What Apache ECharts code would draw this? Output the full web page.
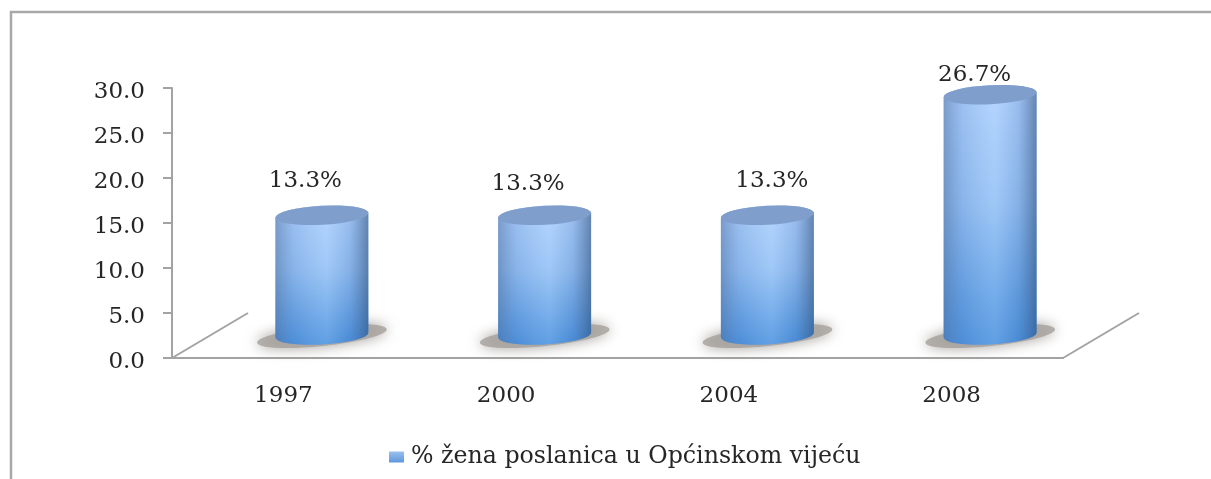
<!DOCTYPE html>
<html>
<head>
<meta charset="utf-8">
<style>html,body{margin:0;padding:0;background:#fff;overflow:hidden}#c{width:1211px;height:479px;filter:blur(0.45px)}</style>
<script src="https://cdn.jsdelivr.net/npm/echarts@6/dist/echarts.min.js"></script>
</head>
<body>
<div id="c"></div>
<script>
const categories = ['1997', '2000', '2004', '2008'];
const shares = [13.3, 13.3, 13.3, 26.7];
const dataLabels = ['13.3%', '13.3%', '13.3%', '26.7%'];
const seriesName = '% žena poslanica u Općinskom vijeću';
const yTicks = { min: 0, max: 30, step: 5 };

const FONT = '"DejaVu Serif", serif';
const TEXT = '#262626';
const AXIS = '#a3a3a3';
const DEPTH = [38.5, -23];
const WALL = [76, -45];
const TILT = 3;
const labelNudge = [[22, -57], [22, -54], [43, -57], [23, -43]];

function ell(cx, cy, rx, deg) {
  const a = deg * Math.PI / 180;
  return { lx: cx - rx * Math.cos(a), ly: cy + rx * Math.sin(a), rx2: cx + rx * Math.cos(a), ry2: cy - rx * Math.sin(a) };
}

function renderBar(params, api) {
  const i = api.value(0);
  const base = api.coord([i, 0]);
  const top = api.coord([i, api.value(1)]);
  const band = api.size([1, 0])[0];
  const rx = band * 0.209, ry = 9.5;
  const cx = base[0] + DEPTH[0];
  const yb = base[1] + DEPTH[1];
  const yt = top[1] + DEPTH[1];
  const b = ell(cx, yb, rx, TILT), t = ell(cx, yt, rx, TILT);
  const body = `M ${t.lx} ${t.ly} L ${b.lx} ${b.ly} A ${rx} ${ry} ${-TILT} 0 0 ${b.rx2} ${b.ry2} L ${t.rx2} ${t.ry2} A ${rx} ${ry} ${-TILT} 0 0 ${t.lx} ${t.ly} Z`;
  const topPath = `M ${t.lx} ${t.ly} A ${rx} ${ry} ${-TILT} 0 1 ${t.rx2} ${t.ry2} A ${rx} ${ry} ${-TILT} 0 1 ${t.lx} ${t.ly} Z`;
  return {
    type: 'group',
    children: [
      { type: 'ellipse', shape: { cx: cx, cy: yb + 1, rx: rx * 1.4, ry: 10 }, rotation: 6 * Math.PI / 180, originX: cx, originY: yb,
        style: { fill: 'rgba(165,160,155,0.8)', shadowBlur: 14, shadowColor: 'rgba(140,135,130,1)' } },
      { type: 'path', shape: { pathData: body },
        style: { fill: { type: 'linear', x: 0, y: 0, x2: 0, y2: 1, colorStops: [
          { offset: 0, color: '#acd0ff' }, { offset: 0.45, color: '#92c0f6' }, { offset: 1, color: '#4a92e0' }] } } },
      { type: 'path', shape: { pathData: body },
        style: { fill: { type: 'linear', x: 0, y: 0, x2: 1, y2: 0, colorStops: [
          { offset: 0, color: 'rgba(75,105,150,0.5)' }, { offset: 0.2, color: 'rgba(90,120,170,0.16)' },
          { offset: 0.55, color: 'rgba(255,255,255,0.12)' }, { offset: 0.8, color: 'rgba(60,90,140,0.14)' },
          { offset: 1, color: 'rgba(40,70,110,0.55)' }] } } },
      { type: 'path', shape: { pathData: topPath }, style: { fill: '#7f9ecb' } },
      { type: 'text', x: top[0] + labelNudge[i][0], y: top[1] + labelNudge[i][1],
        style: { text: dataLabels[i], font: `23px ${FONT}`, fill: TEXT, align: 'center', verticalAlign: 'middle' } }
    ]
  };
}

function renderWall(params, api) {
  const i = api.value(0);
  const p = api.coord([i, 0]);
  const band = api.size([1, 0])[0];
  const x = p[0] + (i === 0 ? -band / 2 : band / 2);
  return { type: 'line', shape: { x1: x, y1: p[1], x2: x + WALL[0], y2: p[1] + WALL[1] },
    style: { stroke: AXIS, lineWidth: 2 } };
}

const chart = echarts.init(document.getElementById('c'), null, { renderer: 'canvas' });
chart.setOption({
  animation: false,
  backgroundColor: '#fff',
  grid: { left: 172, right: 148, top: 88, bottom: 121 },
  graphic: [
    { type: 'polyline', shape: { points: [[11, 479], [11, 12], [1211, 12]] }, style: { stroke: '#a8a8a8', fill: 'none', lineWidth: 2.5 } }
  ],
  legend: {
    data: [seriesName], top: 440, left: 384, icon: 'rect', itemWidth: 15, itemHeight: 11, itemGap: 3,
    textStyle: { fontFamily: FONT, fontSize: 23.7, color: TEXT, padding: [0, 0, 0, 2] }
  },
  xAxis: {
    type: 'category', data: categories,
    axisLine: { lineStyle: { color: AXIS, width: 2 } },
    axisTick: { alignWithLabel: false, length: 7, lineStyle: { color: AXIS, width: 2 } },
    axisLabel: { fontFamily: FONT, fontSize: 23, color: TEXT, margin: 27 }
  },
  yAxis: {
    type: 'value', min: yTicks.min, max: yTicks.max, interval: yTicks.step,
    splitLine: { show: false },
    axisLine: { show: true, lineStyle: { color: AXIS, width: 2 } },
    axisTick: { show: true, length: 9, lineStyle: { color: AXIS, width: 2 } },
    axisLabel: { fontFamily: FONT, fontSize: 23, color: TEXT, margin: 27, verticalAlign: 'top', lineHeight: 8, formatter: v => v.toFixed(1) }
  },
  series: [
    { type: 'custom', name: 'walls', silent: true, renderItem: renderWall, encode: { x: 0, y: 1 }, z: 1,
      data: [[0, 0], [categories.length - 1, 0]] },
    { type: 'custom', name: seriesName, renderItem: renderBar, encode: { x: 0, y: 1 }, z: 2,
      itemStyle: { color: { type: 'linear', x: 0, y: 0, x2: 0, y2: 1, colorStops: [{ offset: 0, color: '#9cc0ee' }, { offset: 1, color: '#5c98dc' }] } },
      data: shares.map((v, i) => [i, v]) }
  ]
});
</script>
</body>
</html>
